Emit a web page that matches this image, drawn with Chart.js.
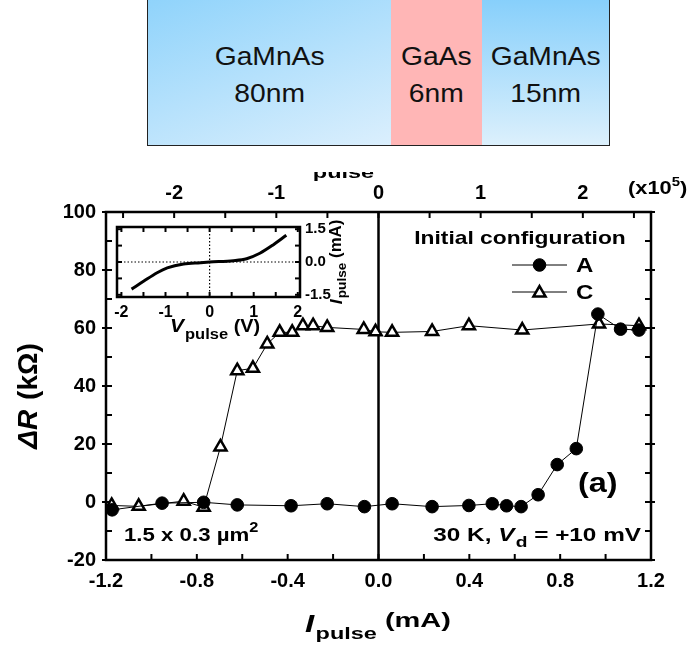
<!DOCTYPE html>
<html>
<head>
<meta charset="utf-8">
<script src="https://cdn.jsdelivr.net/npm/chart.js@4.4.1/dist/chart.umd.min.js"></script>
<style>
body { margin:0; background:#fff; width:696px; height:649px; position:relative; overflow:hidden; font-family:'Liberation Sans', Arial, sans-serif; }
#main { position:absolute; left:0; top:0; }
#inset { position:absolute; left:106px; top:213px; }
.layer { position:absolute; top:-3px; height:149px; box-sizing:border-box; border:1.5px solid #222; padding-top:6px;
  display:flex; align-items:center; justify-content:center; text-align:center; color:#111; }
.layer span { display:inline-block; font-size:25px; line-height:37px; transform:scaleX(1.13); }
</style>
</head>
<body>
<div class="layer" style="left:147px;width:245px;background:linear-gradient(160deg,#8fd3fb,#dbeffd);"><span>GaMnAs<br>80nm</span></div>
<div class="layer" style="left:391px;width:92px;border-left:none;background:#ffb6b6;"><span>GaAs<br>6nm</span></div>
<div class="layer" style="left:482px;width:128px;border-left:none;background:linear-gradient(180deg,#86cffb,#dcf0fc);"><span>GaMnAs<br>15nm</span></div>
<canvas id="main" width="696" height="649"></canvas>
<canvas id="inset" width="250" height="130"></canvas>
<script>
// configuration A (filled circles)
const currentA = [-1.173, -0.953, -0.77, -0.622, -0.385, -0.226, -0.062, 0.06, 0.236, 0.398, 0.501, 0.564, 0.628, 0.703, 0.787, 0.871, 0.966, 1.066, 1.147];
const resistA  = [-2.7, -0.4, -0.1, -1.0, -1.3, -0.6, -1.6, -0.6, -1.6, -1.2, -0.6, -1.3, -1.6, 2.5, 12.9, 18.4, 64.8, 59.6, 59.3];
// configuration C (open triangles)
const currentC = [-1.175, -1.056, -0.858, -0.77, -0.696, -0.622, -0.553, -0.49, -0.435, -0.38, -0.333, -0.288, -0.226, -0.065, -0.013, 0.06, 0.236, 0.398, 0.633, 0.971, 1.147];
const resistC  = [-1.2, -1.5, 0.3, -1.8, 19.0, 45.3, 46.1, 54.5, 58.5, 58.5, 60.8, 60.8, 60.2, 59.5, 58.7, 58.5, 58.8, 60.8, 59.3, 61.4, 60.8];
// inset I-V curve
const insetV = [-1.77, -1.49, -1.19, -0.96, -0.59, -0.21, 0, 0.54, 0.84, 1.14, 1.44, 1.74];
const insetI = [-1.24, -0.87, -0.49, -0.27, -0.09, -0.03, 0, 0.06, 0.15, 0.40, 0.78, 1.22];

const FAM = "'Liberation Sans', Arial, sans-serif";
const F = (style, size) => style + ' ' + size + 'px ' + FAM;

Chart.defaults.font.family = FAM;
Chart.defaults.font.weight = 'bold';
Chart.defaults.color = '#000';

function drawRich(ctx, segs, x, y, align, sx) {
  sx = sx || 1;
  let w = 0;
  segs.forEach(s => { ctx.font = s.font; w += ctx.measureText(s.t).width + (s.pad || 0); });
  let cx = align === 'center' ? -w / 2 : (align === 'right' ? -w : 0);
  ctx.save();
  ctx.translate(x, y);
  ctx.scale(sx, 1);
  ctx.textAlign = 'left';
  ctx.fillStyle = '#000';
  segs.forEach(s => {
    ctx.font = s.font;
    ctx.fillText(s.t, cx, s.dy || 0);
    cx += ctx.measureText(s.t).width + (s.pad || 0);
  });
  ctx.restore();
}

function seg(ctx, x1, y1, x2, y2) {
  ctx.beginPath(); ctx.moveTo(x1, y1); ctx.lineTo(x2, y2); ctx.stroke();
}

const mainDecor = {
  id: 'mainDecor',
  beforeDatasetsDraw(chart) {
    const {ctx, chartArea: a, scales} = chart;
    ctx.save();
    ctx.strokeStyle = '#000';
    ctx.lineWidth = 2.5;
    const x0 = scales.x.getPixelForValue(0);
    seg(ctx, x0, a.top, x0, a.bottom);
    ctx.lineWidth = 2;
    for (let k = -6; k <= 6; k++) {
      const px = scales.x.getPixelForValue(k * 0.2);
      seg(ctx, px, a.bottom, px, a.bottom - 6);
    }
    for (let k = -5; k <= 5; k++) {
      const px = scales.x2.getPixelForValue(k * 0.5);
      seg(ctx, px, a.top, px, a.top + 6);
    }
    for (let k = -2; k <= 10; k++) {
      const py = scales.y.getPixelForValue(k * 10);
      const out = k % 2 === 0 ? 4 : 0;
      seg(ctx, a.left - out, py, a.left + 6, py);
      seg(ctx, a.right - 6, py, a.right + out, py);
    }
    ctx.lineWidth = 2.5;
    ctx.strokeRect(a.left, a.top, a.right - a.left, a.bottom - a.top);
    ctx.restore();
  },
  afterDraw(chart) {
    const ctx = chart.ctx;
    ctx.save();
    ctx.textBaseline = 'alphabetic';
    // y title
    ctx.save();
    ctx.translate(29, 396);
    ctx.rotate(-Math.PI / 2);
    ctx.textBaseline = 'middle';
    drawRich(ctx, [{t: 'ΔR', font: F('italic bold', 28), pad: 2}, {t: ' (kΩ)', font: F('bold', 28)}], 0, 0, 'center');
    ctx.restore();
    ctx.textBaseline = 'alphabetic';
    // x title
    drawRich(ctx, [{t: 'I', font: F('italic bold', 24), pad: 1}, {t: 'pulse', font: F('bold', 17), dy: 7},
      {t: ' (mA)', font: F('bold', 21), dy: -5}], 305, 632, 'left', 1.38);
    // top title, cut off by the figure edge
    ctx.save();
    ctx.beginPath(); ctx.rect(0, 172, 696, 20); ctx.clip();
    drawRich(ctx, [{t: 'J', font: F('italic bold', 24), pad: 1}, {t: 'pulse', font: F('bold', 17), dy: 10},
      {t: ' (A/cm²)', font: F('bold', 21)}], 293, 168, 'left', 1.38);
    ctx.restore();
    drawRich(ctx, [{t: '(x10', font: F('bold', 19)}, {t: '5', font: F('bold', 13), dy: -8}, {t: ')', font: F('bold', 19)}], 628, 194, 'left', 1.15);
    // legend
    drawRich(ctx, [{t: 'Initial configuration', font: F('bold', 19)}], 520, 244, 'center', 1.2);
    const ds = chart.data.datasets;
    [[265, 0, 'A'], [292, 1, 'C']].forEach(([ly, i, name]) => {
      ctx.strokeStyle = '#000'; ctx.lineWidth = 1;
      seg(ctx, 512, ly, 567, ly);
      ctx.fillStyle = ds[i].pointBackgroundColor;
      ctx.strokeStyle = '#000';
      ctx.lineWidth = ds[i].pointBorderWidth;
      Chart.helpers.drawPoint(ctx, {pointStyle: ds[i].pointStyle, radius: ds[i].pointRadius, borderWidth: ds[i].pointBorderWidth, rotation: 0}, 539.5, ly + (i === 1 ? 1 : 0));
      drawRich(ctx, [{t: name, font: F('bold', 20)}], 576, ly + 7, 'left', 1.2);
    });
    drawRich(ctx, [{t: '(a)', font: F('bold', 27)}], 578, 492, 'left', 1.2);
    drawRich(ctx, [{t: '1.5 x 0.3 µm', font: F('bold', 19)}, {t: '2', font: F('bold', 14), dy: -9}], 124, 541, 'left', 1.17);
    drawRich(ctx, [{t: '30 K, ', font: F('bold', 19)}, {t: 'V', font: F('italic bold', 19), pad: 1}, {t: 'd', font: F('bold', 15), dy: 6},
      {t: ' = +10 mV', font: F('bold', 19)}], 641, 541, 'right', 1.28);
    ctx.restore();
  }
};

const fmt1 = v => Number(v).toFixed(1);

new Chart(document.getElementById('main'), {
  type: 'scatter',
  data: {
    datasets: [
      {
        label: 'A',
        data: currentA.map((v, i) => ({x: v, y: resistA[i]})),
        showLine: true, borderColor: '#000', borderWidth: 1,
        pointStyle: 'circle', pointRadius: 6.3, pointBackgroundColor: '#000', pointBorderColor: '#000', pointBorderWidth: 1
      },
      {
        label: 'C',
        data: currentC.map((v, i) => ({x: v, y: resistC[i]})),
        showLine: true, borderColor: '#000', borderWidth: 1,
        pointStyle: 'triangle', pointRadius: 7, pointBackgroundColor: '#fff', pointBorderColor: '#000', pointBorderWidth: 2.5
      }
    ]
  },
  options: {
    responsive: false, animation: false, devicePixelRatio: 1,
    layout: {padding: 0},
    plugins: {legend: {display: false}, tooltip: {enabled: false}},
    scales: {
      x: {
        type: 'linear', position: 'bottom', min: -1.2, max: 1.2,
        grid: {display: false, drawTicks: false}, border: {display: false},
        ticks: {stepSize: 0.4, callback: fmt1, font: {size: 20, weight: 'bold'}, padding: 9, maxRotation: 0},
        afterFit(s) { s.height = 89; }
      },
      x2: {
        type: 'linear', position: 'top', min: -2.667, max: 2.667,
        grid: {display: false, drawTicks: false}, border: {display: false},
        ticks: {stepSize: 1, includeBounds: false, font: {size: 20, weight: 'bold'}, padding: 7, maxRotation: 0},
        afterFit(s) { s.height = 212; }
      },
      y: {
        type: 'linear', position: 'left', min: -20, max: 100,
        grid: {display: false, drawTicks: false}, border: {display: false},
        ticks: {stepSize: 20, font: {size: 20, weight: 'bold'}, padding: 10},
        afterFit(s) { s.width = 106; }
      },
      y2: {
        type: 'linear', position: 'right', min: -20, max: 100,
        grid: {display: false, drawTicks: false}, border: {display: false},
        ticks: {display: false},
        afterFit(s) { s.width = 45; }
      }
    }
  },
  plugins: [mainDecor]
});

const insetDecor = {
  id: 'insetDecor',
  beforeDatasetsDraw(chart) {
    const {ctx, chartArea: a, scales} = chart;
    ctx.save();
    ctx.strokeStyle = '#000';
    ctx.lineWidth = 1.2;
    ctx.setLineDash([1.5, 2]);
    const x0 = scales.x.getPixelForValue(0), y0 = scales.y.getPixelForValue(0);
    seg(ctx, x0, a.top, x0, a.bottom);
    seg(ctx, a.left, y0, a.right, y0);
    ctx.setLineDash([]);
    ctx.lineWidth = 2;
    for (let k = -4; k <= 4; k++) {
      const px = scales.x.getPixelForValue(k * 0.5);
      seg(ctx, px, a.bottom, px, a.bottom - 5);
      seg(ctx, px, a.top, px, a.top + 5);
    }
    for (let k = -2; k <= 2; k++) {
      const py = scales.y.getPixelForValue(k * 0.75);
      seg(ctx, a.left, py, a.left + 5, py);
      seg(ctx, a.right - 5, py, a.right, py);
    }
    ctx.lineWidth = 2.5;
    ctx.strokeRect(a.left, a.top, a.right - a.left, a.bottom - a.top);
    ctx.restore();
  },
  afterDraw(chart) {
    const ctx = chart.ctx;
    ctx.save();
    ctx.textBaseline = 'alphabetic';
    drawRich(ctx, [{t: 'V', font: F('italic bold', 19), pad: 1}, {t: 'pulse', font: F('bold', 15), dy: 7},
      {t: ' (V)', font: F('bold', 18)}], 64, 119, 'left', 1.1);
    ctx.translate(231, 49);
    ctx.rotate(-Math.PI / 2);
    ctx.textBaseline = 'middle';
    drawRich(ctx, [{t: 'I', font: F('italic bold', 17), pad: 1}, {t: 'pulse', font: F('bold', 13), dy: 5},
      {t: ' (mA)', font: F('bold', 16)}], 0, 0, 'center', 1.05);
    ctx.restore();
  }
};

new Chart(document.getElementById('inset'), {
  type: 'line',
  data: {
    datasets: [{
      data: insetV.map((v, i) => ({x: v, y: insetI[i]})),
      borderColor: '#000', borderWidth: 3, pointRadius: 0, cubicInterpolationMode: 'monotone', fill: false
    }]
  },
  options: {
    responsive: false, animation: false, devicePixelRatio: 1,
    layout: {padding: {left: 11, top: 12}},
    plugins: {legend: {display: false}, tooltip: {enabled: false}},
    scales: {
      x: {
        type: 'linear', position: 'bottom', min: -2.1, max: 2.05,
        grid: {display: false, drawTicks: false}, border: {display: false},
        ticks: {stepSize: 1, includeBounds: false, font: {size: 16, weight: 'bold'}, padding: 6, maxRotation: 0},
        afterFit(s) { s.height = 46; }
      },
      y: {
        type: 'linear', position: 'right', min: -1.6, max: 1.6,
        grid: {display: false, drawTicks: false}, border: {display: false},
        ticks: {stepSize: 1.5, includeBounds: false, callback: fmt1, font: {size: 15, weight: 'bold'}, padding: 5},
        afterFit(s) { s.width = 56; }
      }
    }
  },
  plugins: [insetDecor]
});
</script>
</body>
</html>
